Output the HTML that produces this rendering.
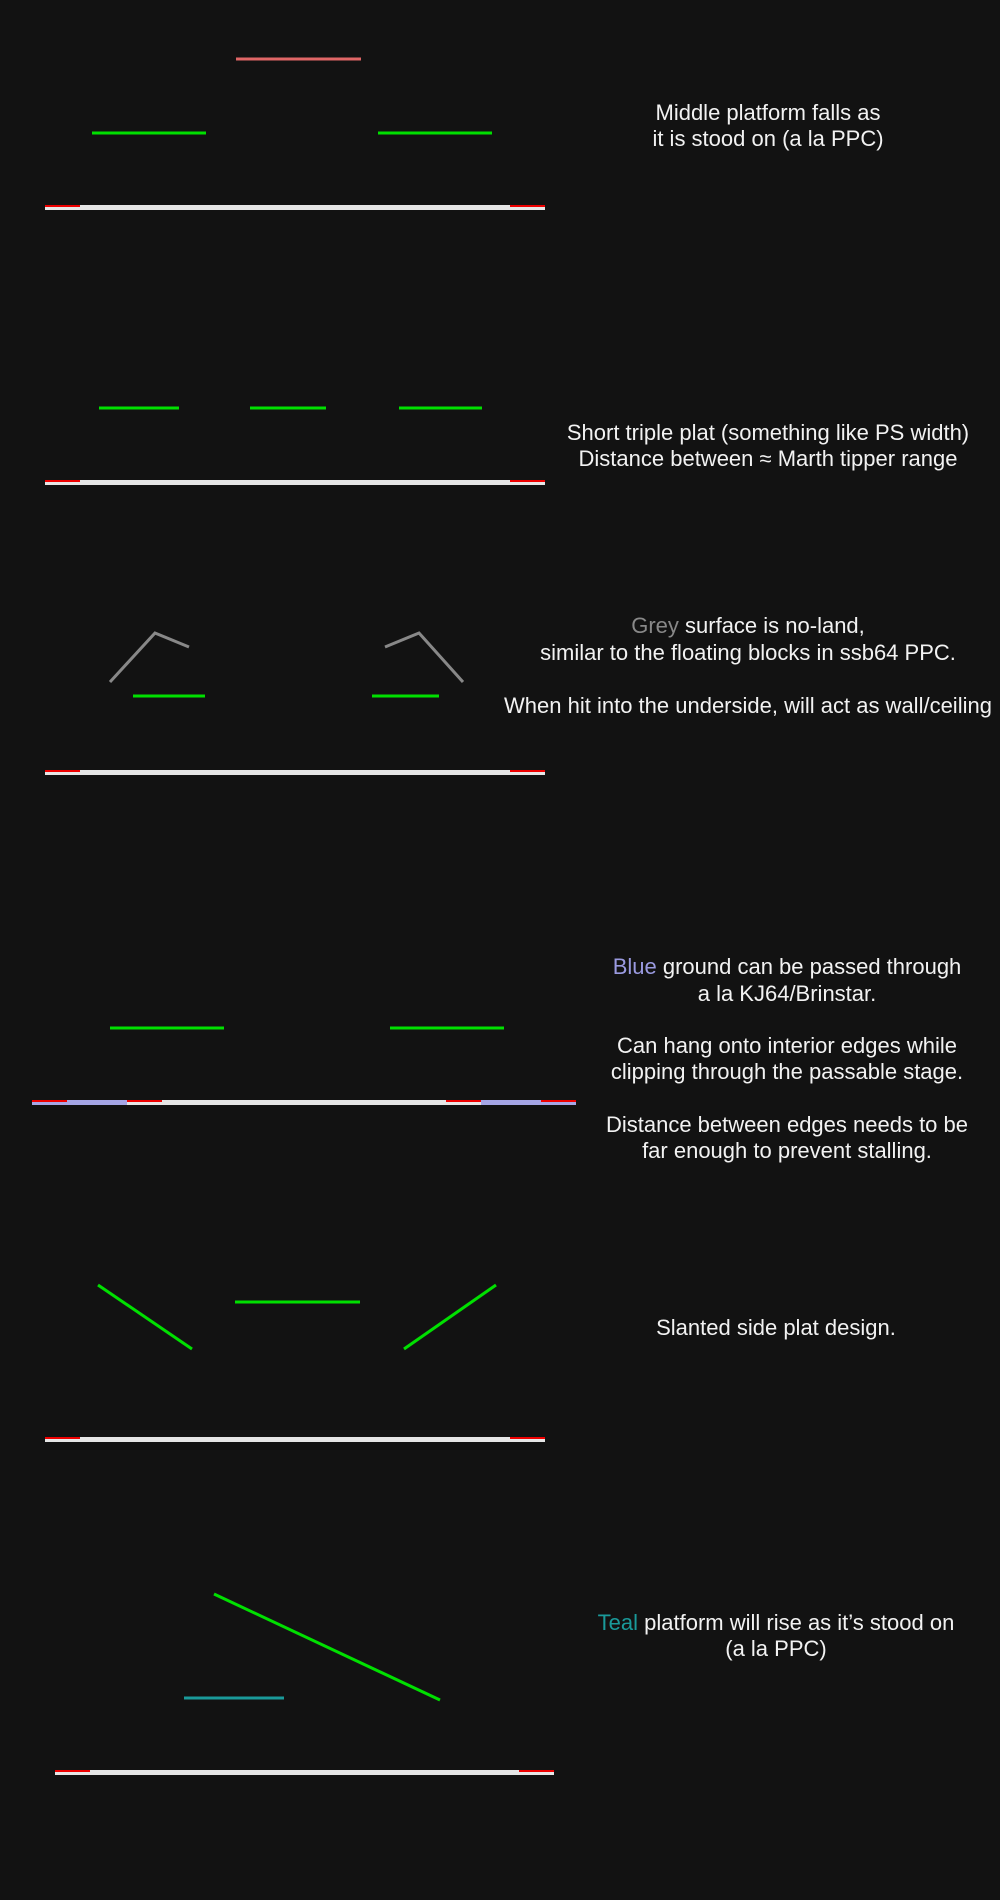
<!DOCTYPE html>
<html><head><meta charset="utf-8"><style>
html,body{margin:0;padding:0;background:#121212;}
svg{display:block}
text{font-family:"Liberation Sans",sans-serif;font-size:22px;fill:#f2f2f2;}
</style></head><body>
<svg id="c" width="1000" height="1900" viewBox="0 0 1000 1900">
<rect width="1000" height="1900" fill="#121212"/>
<g id="marks"></g>
<g id="labels" text-anchor="middle">
<text x="768" y="120">Middle platform falls as</text>
<text x="768" y="146">it is stood on (a la PPC)</text>
<text x="768" y="440">Short triple plat (something like PS width)</text>
<text x="768" y="466">Distance between ≈ Marth tipper range</text>
<text x="748" y="633"><tspan fill="#888888">Grey</tspan> surface is no-land,</text>
<text x="748" y="660">similar to the floating blocks in ssb64 PPC.</text>
<text x="748" y="713">When hit into the underside, will act as wall/ceiling</text>
<text x="787" y="974"><tspan fill="#9a9ae0">Blue</tspan> ground can be passed through</text>
<text x="787" y="1001">a la KJ64/Brinstar.</text>
<text x="787" y="1053">Can hang onto interior edges while</text>
<text x="787" y="1079">clipping through the passable stage.</text>
<text x="787" y="1132">Distance between edges needs to be</text>
<text x="787" y="1158">far enough to prevent stalling.</text>
<text x="776" y="1335">Slanted side plat design.</text>
<text x="776" y="1630"><tspan fill="#1a9a9a">Teal</tspan> platform will rise as it’s stood on</text>
<text x="776" y="1656">(a la PPC)</text>
</g>
</svg>
<script>
// segments: [x1,y1,x2,y2]
const pinkPlats=[[236,59,361,59]];
const greenPlats=[[92,133,206,133],[378,133,492,133],[99,408,179,408],[250,408,326,408],[399,408,482,408],[133,696,205,696],[372,696,439,696],[110,1028,224,1028],[390,1028,504,1028],[98,1285,192,1349],[404,1349,496,1285],[235,1302,360,1302],[214,1594,440,1700]];
const greyPaths=[[[110,682],[155,633],[189,647]],[[385,647],[419,633],[463,682]]];
const tealPlats=[[184,1698,284,1698]];
// grounds: [x1,x2,yTop]
const grounds=[[45,545,205],[45,545,480],[45,545,770],[45,545,1437],[55,554,1770]];
const edgeLen=35;
const blueGround=[[32,576,1100]];
const blueSegs=[[32,127],[481,576]];
const blueEdges=[[32,67],[127,162],[446,481],[541,576]];

const NS='http://www.w3.org/2000/svg';
const g=document.getElementById('marks');
function rect(x,y,w,h,fill,name){const r=document.createElementNS(NS,'rect');r.setAttribute('x',x);r.setAttribute('y',y);r.setAttribute('width',w);r.setAttribute('height',h);r.setAttribute('fill',fill);


g.appendChild(r);}
function line(s,col,name){const l=document.createElementNS(NS,'line');l.setAttribute('x1',s[0]);l.setAttribute('y1',s[1]);l.setAttribute('x2',s[2]);l.setAttribute('y2',s[3]);l.setAttribute('stroke',col);l.setAttribute('stroke-width',3);


g.appendChild(l);}
grounds.forEach(([a,b,y])=>{rect(a,y,b-a,5,'#e6e6e6','main-ground');rect(a,y,edgeLen,2,'#ee0000','ledge');rect(b-edgeLen,y,edgeLen,2,'#ee0000','ledge');});
blueGround.forEach(([a,b,y])=>{rect(a,y,b-a,5,'#e6e6e6','main-ground');
blueSegs.forEach(([p,q])=>rect(p,y,q-p,5,'#a6a6e6','passable-ground'));
blueEdges.forEach(([p,q])=>rect(p,y,q-p,2,'#ee0000','ledge'));});
pinkPlats.forEach(s=>line(s,'#e06666','falling-platform'));
greenPlats.forEach(s=>line(s,'#00e000','platform'));
tealPlats.forEach(s=>line(s,'#1a9a9a','rising-platform'));
greyPaths.forEach(p=>{const pl=document.createElementNS(NS,'polyline');pl.setAttribute('points',p.map(q=>q.join(',')).join(' '));pl.setAttribute('fill','none');pl.setAttribute('stroke','#888888');pl.setAttribute('stroke-width',3);


g.appendChild(pl);});
</script>
</body></html>
